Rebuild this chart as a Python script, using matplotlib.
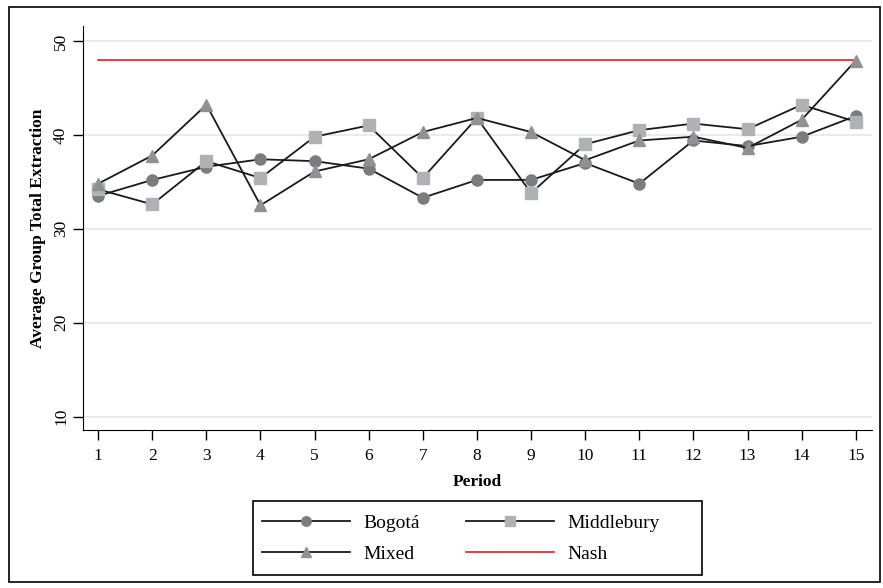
import matplotlib
matplotlib.use("Agg")
from matplotlib import pyplot as plt
from matplotlib.patches import Rectangle

plt.rcParams['font.family'] = ['Liberation Serif', 'DejaVu Serif']

periods = list(range(1, 16))
bogota = [33.5, 35.2, 36.6, 37.4, 37.2, 36.4, 33.3, 35.2, 35.2, 37.0, 34.8, 39.4, 38.8, 39.8, 42.0]
middlebury = [34.2, 32.6, 37.2, 35.4, 39.8, 41.0, 35.4, 41.8, 33.8, 39.0, 40.5, 41.2, 40.6, 43.2, 41.4]
mixed = [34.8, 37.8, 43.2, 32.5, 36.1, 37.4, 40.3, 41.8, 40.3, 37.3, 39.4, 39.8, 38.6, 41.6, 47.9]
nash = 48
yticks = [10, 20, 30, 40, 50]

W, H = 883, 588
fig = plt.figure(figsize=(W / 100, H / 100), dpi=100)
ax = fig.add_axes([0.094, 0.269, 0.8935, 0.687])

ax.plot(periods, bogota, color='#1a1a1a', lw=1.3, marker='o', ms=8,
        mfc='#7b7c80', mec='#7b7c80', label='Bogotá', zorder=3)
ax.plot(periods, middlebury, color='#1a1a1a', lw=1.3, marker='s', ms=8,
        mfc='#b0b1b5', mec='#b0b1b5', label='Middlebury', zorder=3)
ax.plot(periods, mixed, color='#1a1a1a', lw=1.3, marker='^', ms=9,
        mfc='#909195', mec='#909195', label='Mixed', zorder=3)
ax.plot([periods[0], periods[-1]], [nash, nash], color='#e8191c', lw=1.2,
        label='Nash', zorder=2)

ax.set_xlim(0.72, 15.3)
ax.set_ylim(8.6, 51.6)
ax.set_xticks(periods)
ax.set_yticks(yticks)
ax.tick_params(axis='both', labelsize=12.5, direction='out', length=7, width=1)
ax.tick_params(axis='x', pad=6)
ax.tick_params(axis='y', pad=3)
for lab in ax.get_yticklabels():
    lab.set_rotation(90)
    lab.set_va('center')
ax.yaxis.grid(True, color='#e6e6e6', lw=1.2)
ax.set_axisbelow(True)
for s in ['top', 'right']:
    ax.spines[s].set_visible(False)
ax.set_ylabel('Average Group Total Extraction', fontsize=12.5, fontweight='bold', labelpad=5)
ax.set_xlabel('Period', fontsize=12.5, fontweight='bold', labelpad=7)

# legend box drawn separately (wide right padding like the original)
fig.patches.append(Rectangle((253 / W, 1 - 575 / H), 449 / W, 74 / H,
                             transform=fig.transFigure, fill=False,
                             edgecolor='black', lw=1.2))
handles, labels = ax.get_legend_handles_labels()
order = [0, 2, 1, 3]
leg = fig.legend([handles[i] for i in order], [labels[i] for i in order],
                 loc='upper left', bbox_to_anchor=(262 / W, 1 - 514 / H), ncol=2,
                 fontsize=14, frameon=False, borderpad=0, borderaxespad=0,
                 handlelength=4.5, handletextpad=0.7, columnspacing=2.4,
                 labelspacing=0.72, markerscale=0.85)

fig.patches.append(Rectangle((0.01, 0.01), 0.987, 0.978, transform=fig.transFigure,
                             fill=False, edgecolor='black', lw=1.2))

fig.savefig('out.png', dpi=100)
